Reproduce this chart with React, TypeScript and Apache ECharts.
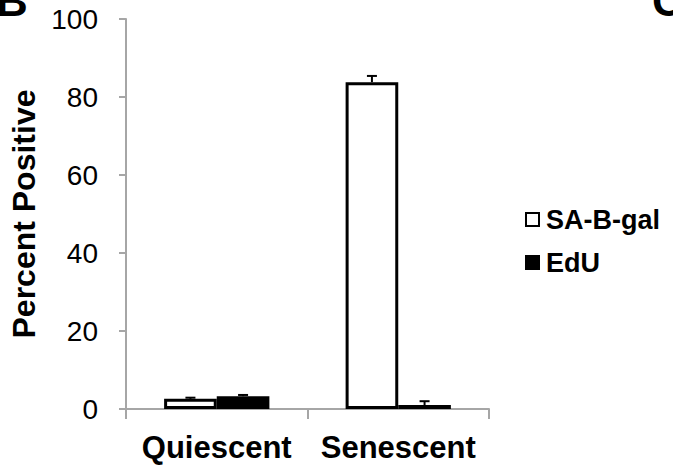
import React, { useEffect, useRef } from "react";
import * as echarts from "echarts";

const categories = ["Quiescent", "Senescent"];
const seriesNames = ["SA-B-gal", "EdU"];
const sabgalValues = [2.6, 83.8];
const sabgalErrors = [0.3, 1.6];
const eduValues = [3.3, 1.0];
const eduErrors = [0.3, 1.0];
const yTicks = [0, 20, 40, 60, 80, 100];

const FONT = "'Liberation Sans', Arial, sans-serif";

export default function App() {
  const ref = useRef<HTMLDivElement>(null);
  useEffect(() => {
    if (!ref.current) return;
    const chart = echarts.init(ref.current, undefined, { renderer: "svg" });
    const errorSeries = (name: string, vals: number[], errs: number[], idx: number) => ({
      type: "custom",
      name: name + "-err",
      silent: true,
      z: 10,
      renderItem: (params: any, api: any) => {
        const ci = api.value(0);
        const v = api.value(1);
        const e = api.value(2);
        const base = api.coord([ci, v]);
        const top = api.coord([ci, v + e]);
        const bandW = api.size([1, 0])[0];
        const barW = bandW * 0.29;
        const x = base[0] + (idx === 0 ? -barW / 2 : barW / 2);
        const cap = 5;
        return {
          type: "group",
          children: [
            { type: "line", shape: { x1: x, y1: base[1], x2: x, y2: top[1] }, style: { stroke: "#000", lineWidth: 2 } },
            { type: "line", shape: { x1: x - cap, y1: top[1], x2: x + cap, y2: top[1] }, style: { stroke: "#000", lineWidth: 2 } },
          ],
        };
      },
      data: vals.map((v, i) => [i, v, errs[i]]),
    });
    chart.setOption({
      animation: false,
      grid: { left: 122, top: 19, width: 367, height: 390, containLabel: false },
      legend: {
        orient: "vertical",
        left: 520,
        top: 201,
        itemWidth: 13,
        itemHeight: 13,
        itemGap: 16,
        icon: "rect",
        data: seriesNames,
        textStyle: { fontFamily: FONT, fontWeight: "bold", fontSize: 27, color: "#000", padding: [0, 0, 0, 2] },
      },
      xAxis: {
        type: "category",
        data: categories,
        axisLine: { lineStyle: { color: "#a6a6a6", width: 2 } },
        axisTick: { show: true, length: 10, lineStyle: { color: "#a6a6a6", width: 2 } },
        axisLabel: { interval: 0, hideOverlap: false, fontFamily: FONT, fontWeight: "bold", fontSize: 31, color: "#000", margin: 23 },
      },
      yAxis: {
        type: "value",
        min: 0,
        max: 100,
        interval: 20,
        name: "Percent Positive",
        nameLocation: "middle",
        nameGap: 86,
        nameTextStyle: { fontFamily: FONT, fontWeight: "bold", fontSize: 32, color: "#000" },
        axisLine: { show: true, lineStyle: { color: "#a6a6a6", width: 2 } },
        axisTick: { show: true, length: 7, lineStyle: { color: "#a6a6a6", width: 2 } },
        splitLine: { show: false },
        axisLabel: {
          fontFamily: FONT,
          fontSize: 28,
          color: "#000",
          margin: 28,
          formatter: (v: number) => (yTicks.includes(v) ? String(v) : ""),
        },
      },
      series: [
        {
          type: "bar",
          name: seriesNames[0],
          data: sabgalValues,
          barCategoryGap: "42%",
          barGap: "0%",
          itemStyle: { color: "#fff", borderColor: "#000", borderWidth: 3 },
        },
        {
          type: "bar",
          name: seriesNames[1],
          data: eduValues,
          barCategoryGap: "42%",
          barGap: "0%",
          itemStyle: { color: "#000", borderColor: "#000", borderWidth: 3 },
        },
        errorSeries(seriesNames[0], sabgalValues, sabgalErrors, 0),
        errorSeries(seriesNames[1], eduValues, eduErrors, 1),
      ],
      graphic: [
        { type: "text", left: -4, top: -22, style: { text: "B", fontFamily: FONT, fontWeight: "bold", fontSize: 44, fill: "#000" } },
        { type: "text", left: 652, top: -22, style: { text: "C", fontFamily: FONT, fontWeight: "bold", fontSize: 44, fill: "#000" } },
      ],
    });
    return () => chart.dispose();
  }, []);
  return <div ref={ref} style={{ width: 673, height: 467, position: "absolute", left: 0, top: 0 }} />;
}
